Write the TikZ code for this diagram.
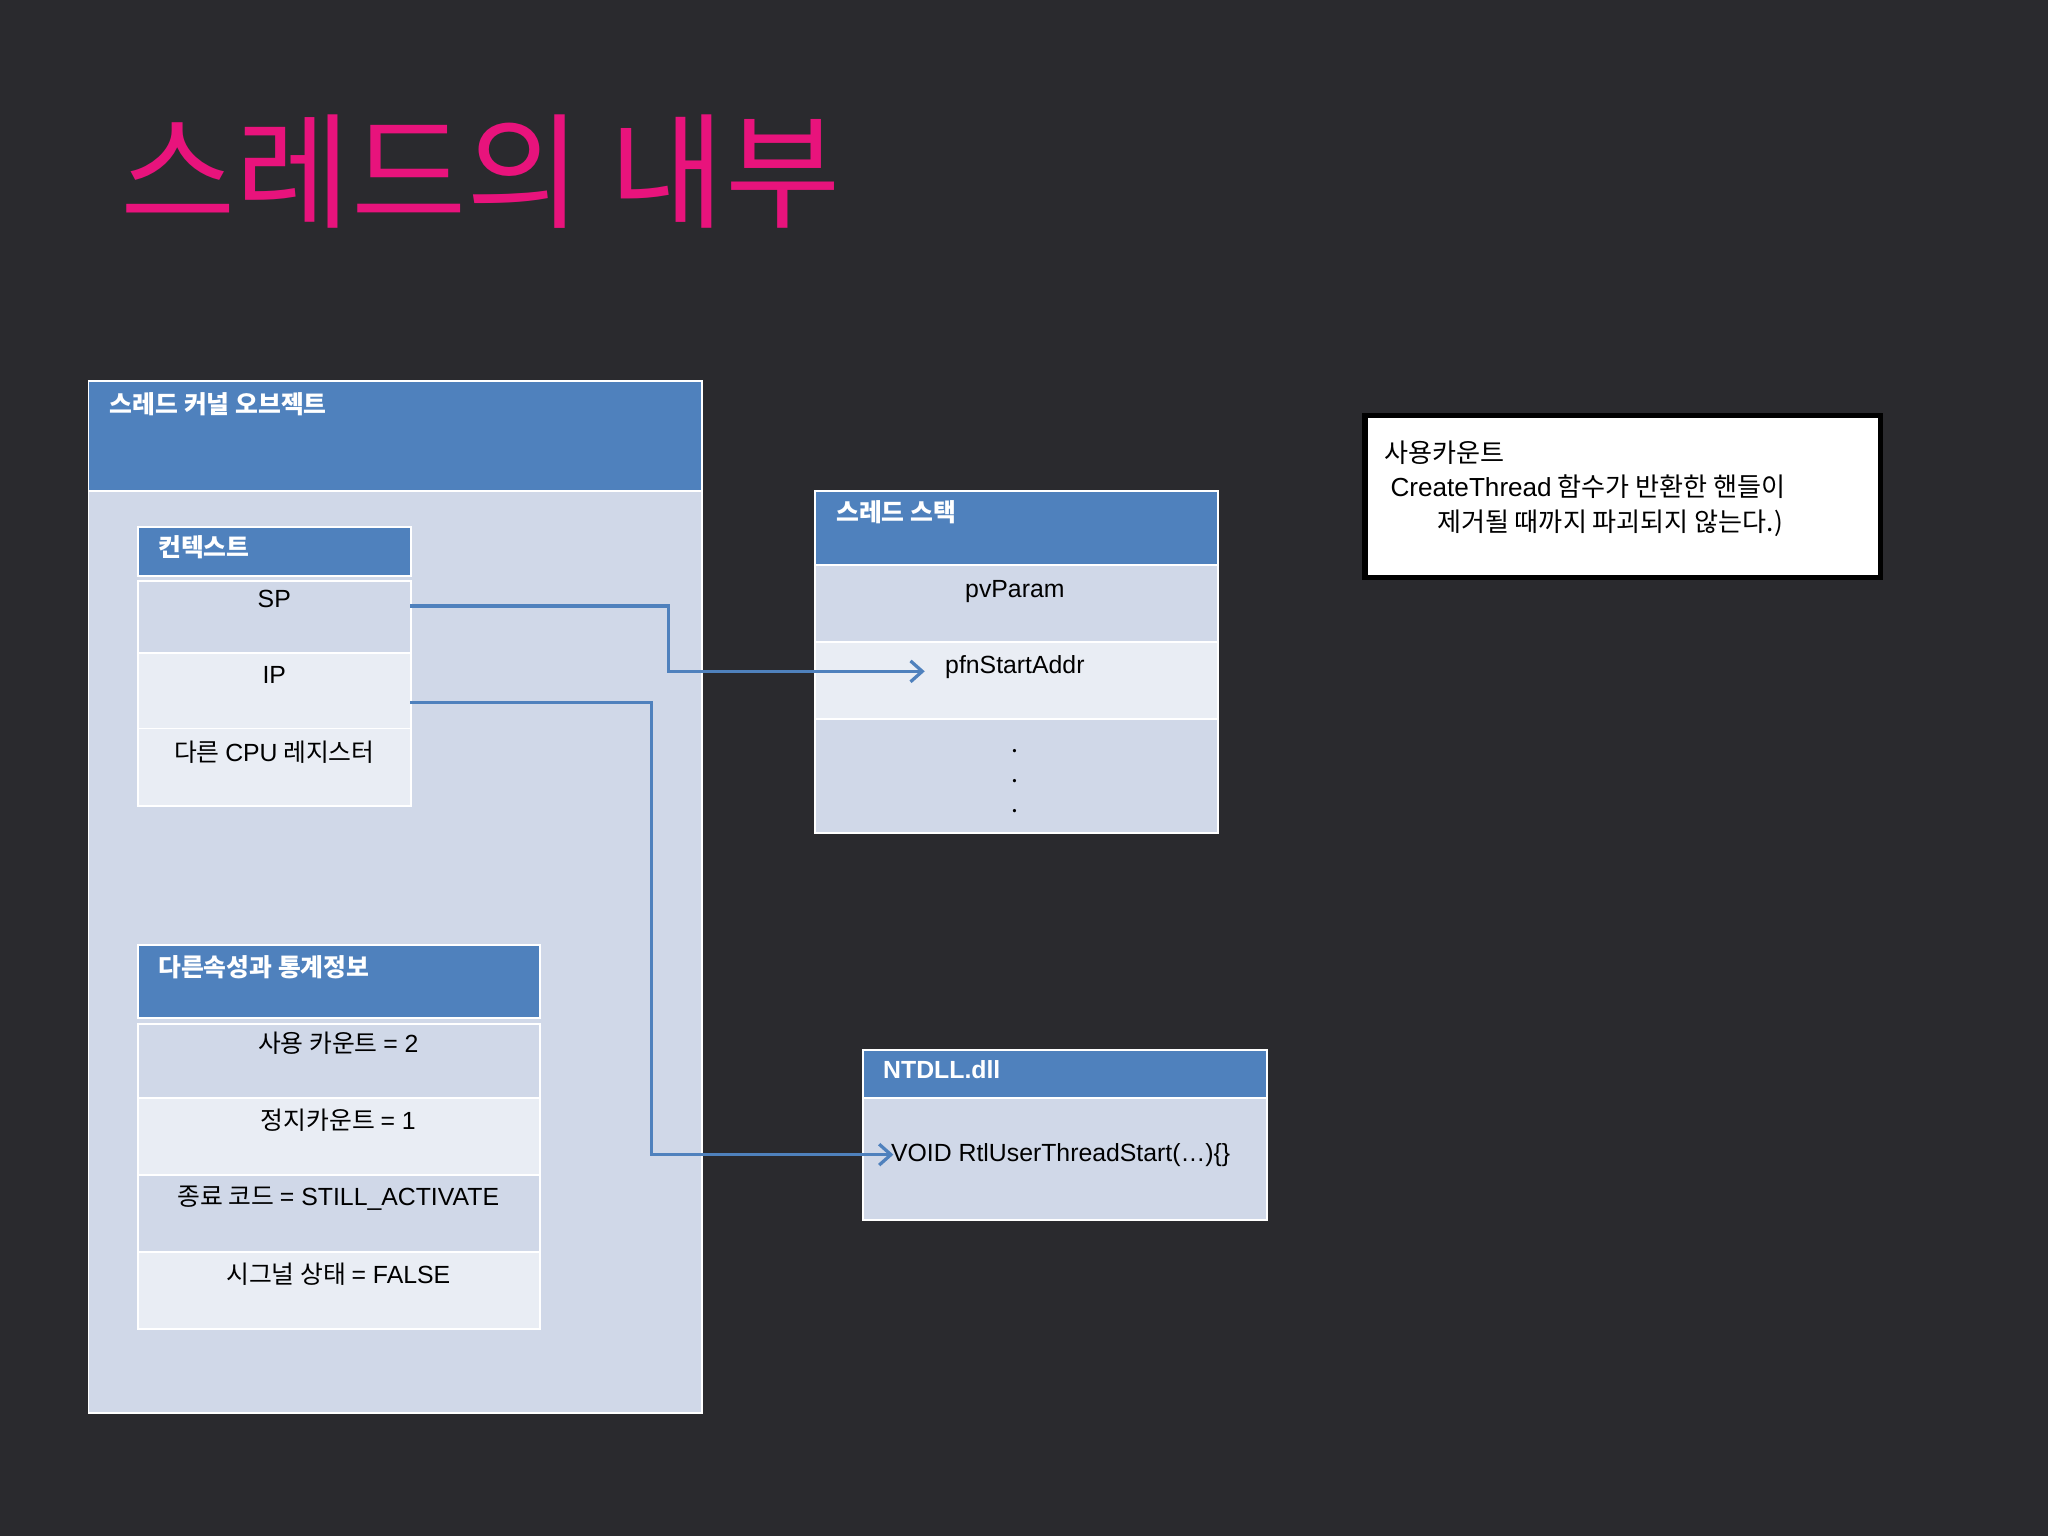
\documentclass[tikz,border=0pt]{standalone}
\usepackage{fontspec}
\setmainfont{Noto Sans CJK KR}
\newfontfamily\latin{Liberation Sans}
\begin{document}
\begin{tikzpicture}[x=1pt,y=-1pt,
  bx/.style={anchor=north west,inner sep=0pt,draw=white,line width=1.5pt},
  hd/.style={bx,fill=hdblue},
  rowa/.style={bx,fill=rowdark},
  rowb/.style={bx,fill=rowlight},
  htxt/.style={anchor=north west,text=white,font=\fontsize{19}{22}\selectfont\bfseries,inner sep=0pt},
  rtxt/.style={anchor=north,text=black,font=\fontsize{19}{22}\selectfont,inner sep=0pt},
  conn/.style={draw=hdblue,line width=2.5pt},
  tip/.style={-{Straight Barb[length=9pt,width=16pt,line width=2.5pt]}}]
\definecolor{bg}{HTML}{2A2A2E}
\definecolor{hdblue}{HTML}{4F81BD}
\definecolor{rowdark}{HTML}{D0D8E8}
\definecolor{rowlight}{HTML}{E9EDF4}
\definecolor{mag}{HTML}{E8137C}
\usetikzlibrary{arrows.meta}
\fill[bg] (0,0) rectangle (1568,1176);
\useasboundingbox (0,0) rectangle (1568,1176);
\node[anchor=north west,text=mag,font=\fontsize{96}{100}\selectfont,inner sep=0pt] (title) at (92,88) {스레드의 내부};
% outer kernel object
\node[rowa,minimum width=470,minimum height=706] (outer) at (67,375) {};
\node[hd,minimum width=470,minimum height=84] (outerh) at (67,291) {};
\node[htxt] (outert) at (84,300) {스레드 커널 오브젝트};
% context
\node[hd,minimum width=209,minimum height=37] (ctxh) at (105,403) {};
\node[htxt] (ctxt) at (121,410) {컨텍스트};
\node[rowa,minimum width=209,minimum height=55] (sp) at (105,444) {};
\node[rowb,minimum width=209,minimum height=58] (ip) at (105,499) {};
\node[rowb,minimum width=209,minimum height=59] (cpu) at (105,557) {};
\node[rtxt] at (210,452) {\latin SP};
\node[rtxt] at (210,510) {\latin IP};
\node[rtxt] at (210,567) {다른 {\latin CPU} 레지스터};
% stats
\node[hd,minimum width=308,minimum height=56] (sth) at (105,723) {};
\node[htxt] (stt) at (121,731) {다른속성과 통계정보};
\node[rowa,minimum width=308,minimum height=57] (s1) at (105,783) {};
\node[rowb,minimum width=308,minimum height=59] (s2) at (105,840) {};
\node[rowa,minimum width=308,minimum height=59] (s3) at (105,899) {};
\node[rowb,minimum width=308,minimum height=59] (s4) at (105,958) {};
\node[rtxt] at (259,790) {사용 카운트 {\latin = 2}};
\node[rtxt] at (259,849) {정지카운트 {\latin = 1}};
\node[rtxt] at (259,908) {종료 코드 {\latin = STILL\_ACTIVATE}};
\node[rtxt] at (259,967) {시그널 상태 {\latin = FALSE}};
% stack
\node[hd,minimum width=309,minimum height=57] (stkh) at (623,375) {};
\node[htxt] (stkt) at (640,383) {스레드 스택};
\node[rowa,minimum width=309,minimum height=59] (pv) at (623,432) {};
\node[rowb,minimum width=309,minimum height=59] (pfn) at (623,491) {};
\node[rowa,minimum width=309,minimum height=87] (dots) at (623,550) {};
\node[rtxt] at (777,444) {\latin pvParam};
\node[rtxt] at (777,502) {\latin pfnStartAddr};
\node[rtxt,anchor=center,align=center,font=\fontsize{19}{23}\selectfont] at (777,598) {.\\.\\.};
% ntdll
\node[hd,minimum width=309,minimum height=37] (nth) at (660,803) {};
\node[htxt] (ntt) at (676,812) {\latin\bfseries NTDLL.dll};
\node[rowa,minimum width=309,minimum height=93] (rtl) at (660,840) {};
\node[rtxt,anchor=north west] at (682,875) {\latin VOID RtlUserThreadStart(\dots)\{\}};
% note
\node[anchor=north west,fill=white,draw=black,line width=4pt,minimum width=395,minimum height=124,inner sep=0pt] (note) at (1043,316) {};
\node[anchor=north west,inner sep=0pt,align=left,font=\fontsize{20}{26.5}\selectfont] at (1060,337) {사용카운트\\[0pt] \ {\latin CreateThread} 함수가 반환한 핸들이\\[0pt] \qquad 제거될 때까지 파괴되지 않는다.)};
% connectors
\coordinate (spr) at (314,464);
\coordinate (ipr) at (314,538);
\draw[conn,tip] (spr) -- (512,464) -- (512,514) -- (708,514);
\draw[conn,tip] (ipr) -- (499,538) -- (499,884) -- (684,884);
\end{tikzpicture}
\end{document}
